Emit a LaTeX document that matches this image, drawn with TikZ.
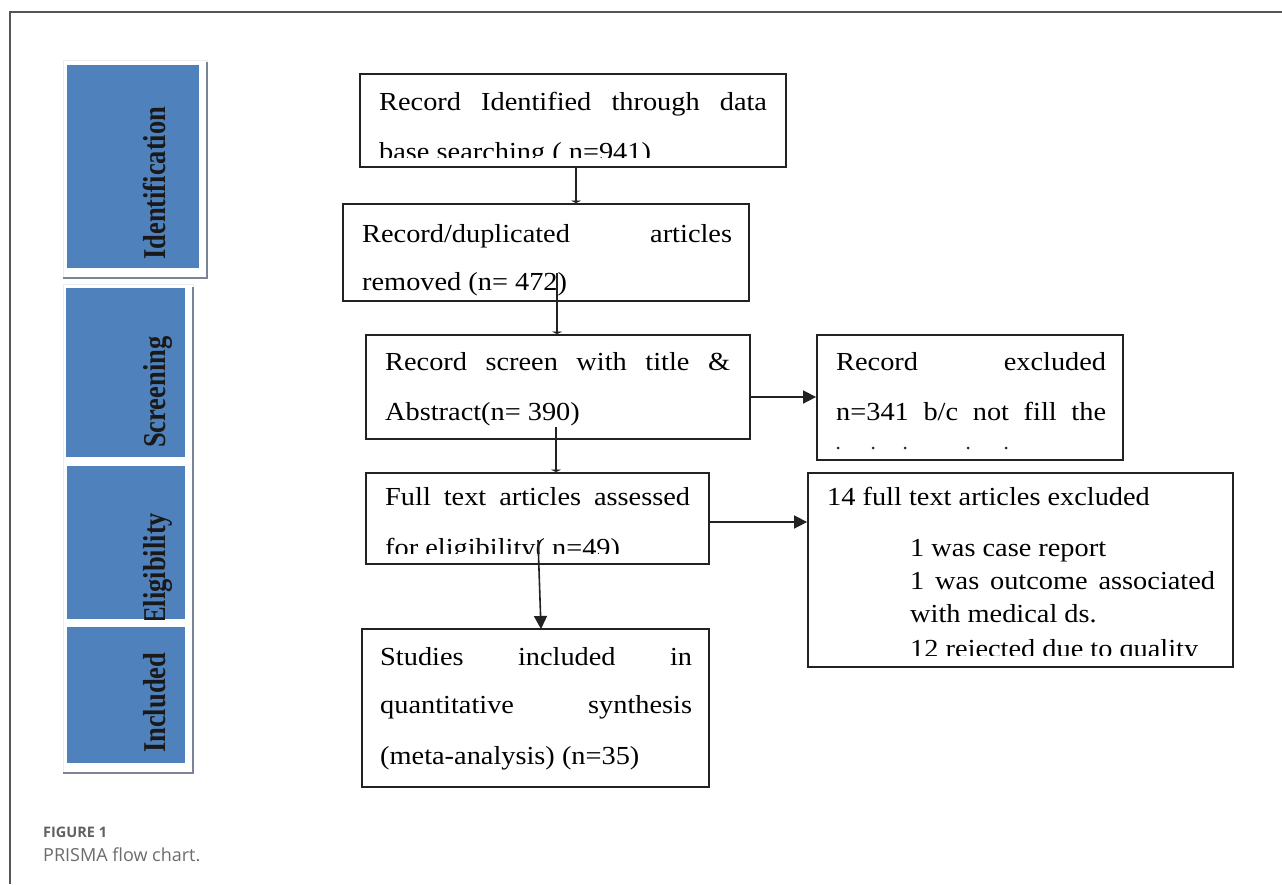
\documentclass[tikz,border=0pt]{standalone}
\usepackage{fontspec}
\usepackage{graphicx}
\setmainfont{Liberation Serif}
\newfontfamily\capfont{Open Sans}
\usetikzlibrary{arrows.meta}
\definecolor{barblue}{HTML}{4F81BD}
\definecolor{boxline}{HTML}{222222}
\definecolor{framegray}{HTML}{555555}
\definecolor{shadowgray}{HTML}{7C8396}
\newcommand\jl[2]{\scalebox{1.09}[1]{\makebox[0.917\dimexpr#1pt\relax][s]{#2}}}
\newcommand\nl[1]{\scalebox{1.09}[1]{#1}}
\newcommand\bartext[1]{\scalebox{1}[1.2]{#1}}
\tikzset{
  flowbox/.style={draw=boxline, line width=1.8pt, fill=none, rectangle, inner sep=0pt},
  txt/.style={anchor=base west, inner sep=0pt, font=\fontsize{26}{30}\selectfont, text=black},
  bartxt/.style={anchor=base west, inner sep=0pt, rotate=90, font=\fontsize{26.5}{30}\selectfont\bfseries, text=black!90},
  bar/.style={fill=barblue, draw=none, rectangle, inner sep=0pt},
  panel/.style={fill=white, draw=gray!15, line width=1pt, rectangle, inner sep=0pt},
  shadowline/.style={draw=shadowgray, line width=1.8pt},
  conn/.style={draw=boxline, line width=1.6pt},
  bumptip/.style={conn, -{Triangle[length=2.5pt,width=10pt]}},
  arr/.style={conn, -{Triangle[length=13pt,width=13pt]}},
}
\begin{document}
\begin{tikzpicture}[x=1pt,y=-1pt]
\useasboundingbox (0,0) rectangle (1282,884);
% frame
\draw[framegray, line width=1.4pt] (1282,12) -- (10,12) -- (10,884);

% ---------------- stage bars ----------------
\node[panel, minimum width=144, minimum height=218] (pnlA) at (135,169) {};
\draw[shadowline] (207,62) -- (207,278) -- (63,278);
\node[bar, minimum width=132, minimum height=203] (barId) at (133,166.5) {};
\node[bartxt] (tId) at (165,260) {\bartext{Identification}};

\node[panel, minimum width=130, minimum height=489] (pnlB) at (128,528.5) {};
\draw[shadowline] (193,287) -- (193,773) -- (63,773);
\node[bar, minimum width=119, minimum height=169] (barSc) at (125.5,372.5) {};
\node[bar, minimum width=118, minimum height=153] (barEl) at (126,542.5) {};
\node[bar, minimum width=118, minimum height=136] (barIn) at (126,695) {};
\node[bartxt] (tSc) at (165,448) {\bartext{Screening}};
\begin{scope}
\clip (67,466) rectangle (185,619);
\node[bartxt] (tEl) at (165,625) {\bartext{Eligibility}};
\end{scope}
\node[bartxt] (tIn) at (165,753) {\bartext{Included}};

% ---------------- boxes ----------------
\node[flowbox, minimum width=426, minimum height=93]  (b1) at (573,120.5) {};
\node[flowbox, minimum width=406, minimum height=97]  (b2) at (546,252.5) {};
\node[flowbox, minimum width=384, minimum height=104] (b3) at (558,387) {};
\node[flowbox, minimum width=343, minimum height=91]  (b4) at (537.5,518.5) {};
\node[flowbox, minimum width=347, minimum height=158] (b5) at (535.5,708) {};
\node[flowbox, minimum width=306, minimum height=125] (b6) at (970,397.5) {};
\node[flowbox, minimum width=425, minimum height=194] (b7) at (1020.5,570) {};

% ---------------- texts ----------------
\node[txt] (t1a) at (379,110) {\jl{388}{Record Identified through data}};
\begin{scope}
\clip (362,140) rectangle (784,157);
\node[txt] (t1b) at (379,160) {\nl{base searching ( n=941)}};
\end{scope}

\node[txt] (t2a) at (362,242) {\jl{370}{Record/duplicated articles}};
\node[txt] (t2b) at (362,290) {\nl{removed (n= 472)}};

\node[txt] (t3a) at (385,370) {\jl{345}{Record screen with title \&}};
\node[txt] (t3b) at (385,420) {\nl{Abstract(n= 390)}};

\node[txt] (t4a) at (385,505) {\jl{305}{Full text articles assessed}};
\begin{scope}
\clip (368,530) rectangle (707,553.5);
\node[txt] (t4b) at (385,556) {\nl{for eligibility( n=49)}};
\end{scope}

\node[txt] (t5a) at (380,665) {\jl{312}{Studies included in}};
\node[txt] (t5b) at (380,713) {\jl{312}{quantitative synthesis}};
\node[txt] (t5c) at (380,764) {\nl{(meta-analysis) (n=35)}};

\node[txt] (t6a) at (836,370) {\jl{270}{Record excluded}};
\node[txt] (t6b) at (836,420) {\jl{270}{n=341 b/c not fill the}};
\foreach \dx [count=\i] in {838,873,905,968,1006}
  \fill[black!85] (\dx,448) circle (1.5);

\node[txt] (t7a) at (827,505) {\nl{14 full text articles excluded}};
\node[txt] (t7b) at (910,556) {\nl{1 was case report}};
\node[txt] (t7c) at (910,589) {\jl{305}{1 was outcome associated}};
\node[txt] (t7d) at (910,622) {\nl{with medical ds.}};
\begin{scope}
\clip (810,630) rectangle (1231,655.5);
\node[txt] (t7e) at (910,657) {\nl{12 rejected due to quality}};
\end{scope}

% ---------------- connectors ----------------
\coordinate (s12) at (576,167);
\coordinate (s23) at (557,273);
\coordinate (s34) at (556,427);
\coordinate (s45) at (538,540);
\coordinate (e45) at (541,629);
\coordinate (y36) at (0,397);
\coordinate (y47) at (0,522);
\draw[bumptip] (s12) -- (s12 |- b2.north);
\draw[bumptip] (s23) -- (s23 |- b3.north);
\draw[bumptip] (s34) -- (s34 |- b4.north);
\draw[arr] (s45) -- (e45);
\draw[arr] (b3.east |- y36) -- (b6.west |- y36);
\draw[arr] (b4.east |- y47) -- (b7.west |- y47);

% ---------------- caption ----------------
\node[anchor=base west, inner sep=0pt, font=\capfont\bfseries\fontsize{14.5}{17}\selectfont, text=black!62] (cap1) at (43,837) {FIGURE 1};
\node[anchor=base west, inner sep=0pt, font=\capfont\fontsize{18}{21}\selectfont, text=black!58] (cap2) at (43,861) {PRISMA flow chart.};
\end{tikzpicture}
\end{document}
